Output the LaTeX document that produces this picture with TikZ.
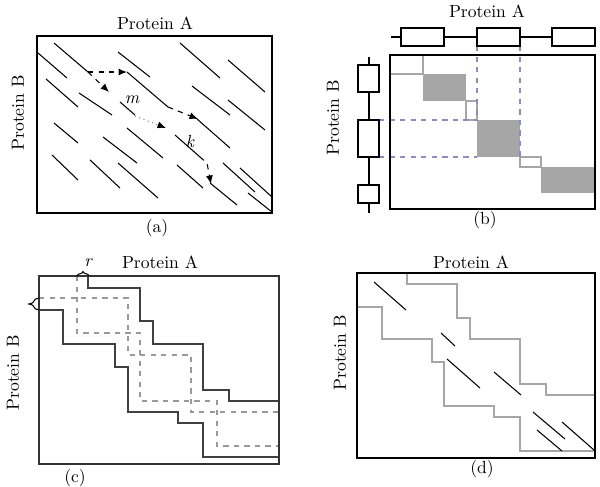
\documentclass[tikz,border=0pt]{standalone}
\usetikzlibrary{positioning,arrows.meta,decorations.pathreplacing}

\definecolor{boxgrey}{RGB}{166,166,166}
\definecolor{bluedash}{RGB}{140,140,190}

\tikzset{
	lbl/.style={font=\fontsize{10}{12}\selectfont,inner sep=0pt},
	gline/.style={draw=boxgrey,line width=0.8pt},
	bdash/.style={draw=bluedash,dashed,line width=0.6pt},
	darr/.style={dashed,line width=0.6pt,-{Latex[length=1.7mm,width=1.4mm,color=black]}},
	stair/.style={draw=black!75,line width=0.8pt},
	gstair/.style={draw=gray!80,dashed,line width=0.6pt},
}

\begin{document}
\begin{tikzpicture}[x=0.02cm,y=-0.02cm,line width=0.6pt]
\useasboundingbox (0,0) rectangle (600,487);

% (a)
\draw (37,36) rectangle (272,213);
\node[lbl] (pa1) at (155,23) {Protein A};
\node[lbl,rotate=90] (pb1) at (18,113) {Protein B};
\node[lbl] (cap1) at (157,228) {(a)};

\foreach \xa/\ya/\xb/\yb in {38/53/67/78,54/43/88/72,46/79/78/107,79/93/112/115,
	118/52/150/77,127/72/168/107,120/102/135/115,180/43/220/78,
	228/60/265/92,192/86/230/115,228/100/265/130,197/119/230/148,
	54/123/78/143,103/137/137/163,127/128/163/158,175/135/200/157,
	52/155/78/180,90/160/120/188,118/163/158/198,177/165/203/188,
	210/183/237/205,223/163/255/192,240/168/272/197,248/193/272/212}
	\draw (\xa,\ya) -- (\xb,\yb);

\coordinate (s1) at (88,72);
\coordinate (e1) at (127,72);
\coordinate (e2) at (109,92);
\coordinate (s3) at (168,107);
\coordinate (e3) at (198,119);
\coordinate (s4) at (135,116);
\coordinate (e4) at (166,128);
\coordinate (s5) at (200,157);
\coordinate (e5) at (211,184);

\draw[darr] (s1) -- (e1);
\draw[darr] (s1) -- (e2);
\draw[darr] (s3) -- (e3);
\draw[darr,dotted,draw=gray] (s4) -- (e4);
\draw[darr] (s5) -- (207,163) -- (e5);

\node[lbl] (m) at (132,100) {\itshape m};
\node[lbl] (k) at (190,141) {\itshape k};

% (b)
\node[lbl] (pa2) at (487,11) {Protein A};
\node[lbl,rotate=90] (pb2) at (333,118) {Protein B};
\node[lbl] (cap2) at (485,220) {(b)};

\fill[boxgrey] (423,74) rectangle (466,101);
\fill[boxgrey] (477,120) rectangle (520,157);
\fill[boxgrey] (541,167) rectangle (595,193);
\draw[gline] (390,74) -- (423,74) -- (423,55);
\draw[gline] (466,101) -- (466,120) -- (477,120) -- (477,101) -- cycle;
\draw[gline] (520,157) -- (520,167) -- (541,167) -- (541,157) -- cycle;

\draw[bdash] (477,46) -- (477,120);
\draw[bdash] (520,46) -- (520,157);
\draw[bdash] (379,120) -- (477,120);
\draw[bdash] (379,157) -- (477,157);

\draw (390,55) rectangle (595,209);

\draw (391,37) -- (595,37);
\foreach \x in {401,477,552}
	\draw[fill=white] (\x,28) rectangle ++(43,18);

\draw (369,57) -- (369,213);
\draw[fill=white] (358,65) rectangle (379,92);
\draw[fill=white] (358,120) rectangle (379,157);
\draw[fill=white] (358,185) rectangle (379,203);

% (c)
\node[lbl] (pa3) at (160,262) {Protein A};
\node[lbl,rotate=90] (pb3) at (13,373) {Protein B};
\node[lbl] (cap3) at (75,478) {(c)};

\draw[gstair] (39,298) -- (128,298) -- (128,355) -- (191,355) -- (191,412) -- (279,412);
\draw[gstair] (77,276) -- (77,333) -- (140,333) -- (140,401) -- (217,401) -- (217,446) -- (279,446);

\draw[stair] (88,276) -- (88,288) -- (140,288) -- (140,321) -- (153,321) -- (153,344)
	-- (203,344) -- (203,390) -- (229,390) -- (229,401) -- (279,401);
\draw[stair] (39,310) -- (63,310) -- (63,344) -- (115,344) -- (115,367) -- (128,367)
	-- (128,412) -- (178,412) -- (178,423) -- (203,423) -- (203,457) -- (279,457);

\draw[black!80] (39,276) rectangle (279,464);

\draw[decorate,decoration={brace,amplitude=2mm}] (39,310) -- (39,298);
\draw[decorate,decoration={brace,amplitude=0.9mm}] (77,276) -- (89,276);
\node[lbl] (r) at (88,263) {\itshape r};

% (d)
\node[lbl] (pa4) at (471,262) {Protein A};
\node[lbl,rotate=90] (pb4) at (340,353) {Protein B};
\node[lbl] (cap4) at (482,469) {(d)};

\draw[gline] (407,273) -- (407,284) -- (457,284) -- (457,318) -- (470,318) -- (470,339)
	-- (520,339) -- (520,384) -- (546,384) -- (546,395) -- (595,395);
\draw[gline] (357,307) -- (382,307) -- (382,339) -- (432,339) -- (432,362) -- (444,362)
	-- (444,406) -- (494,406) -- (494,417) -- (520,417) -- (520,451) -- (595,451);

\foreach \xa/\ya/\xb/\yb in {374/282/406/310,441/333/455/346,447/359/480/388,
	494/372/521/395,533/412/565/439,537/430/562/451,562/422/594/450}
	\draw (\xa,\ya) -- (\xb,\yb);

\draw (357,273) rectangle (595,458);

\end{tikzpicture}
\end{document}
